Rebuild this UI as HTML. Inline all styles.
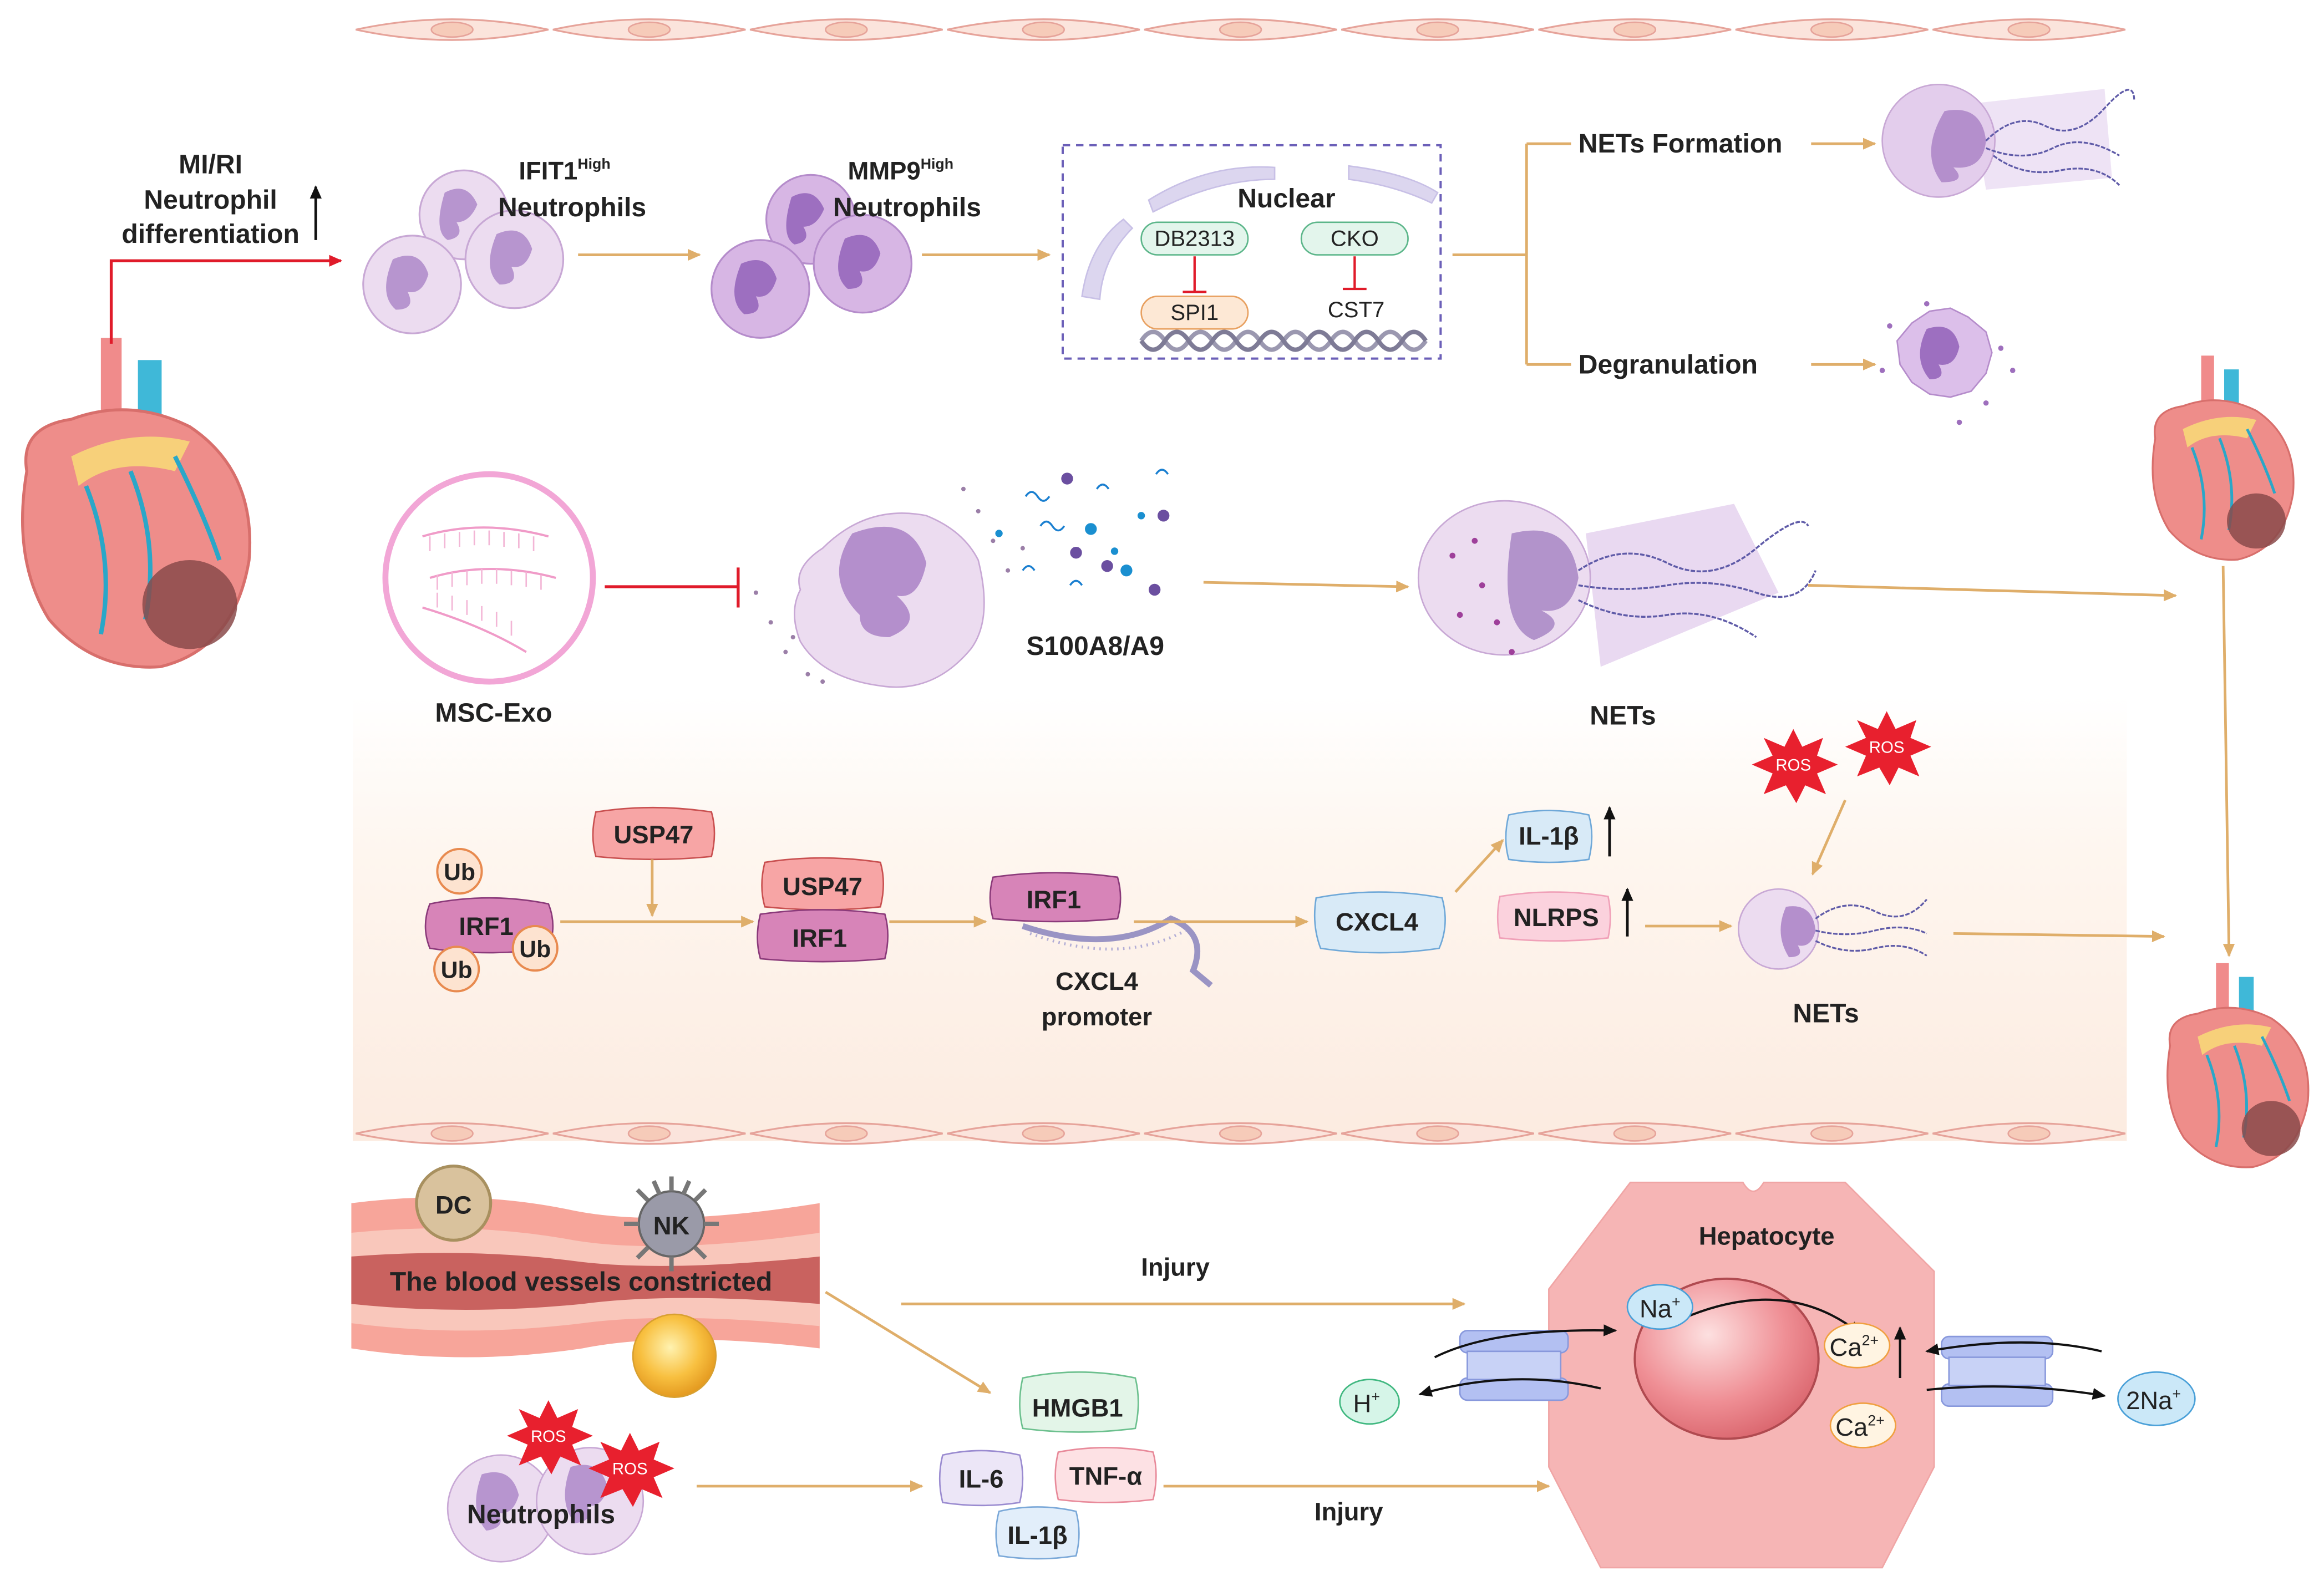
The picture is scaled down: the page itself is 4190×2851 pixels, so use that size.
<!DOCTYPE html>
<html><head><meta charset="utf-8"><style>
html,body{margin:0;padding:0;background:#fff}
svg{display:block}
text{font-family:"Liberation Sans",sans-serif;font-weight:bold;fill:#222}
</style></head><body>
<svg width="4190" height="2851" viewBox="0 0 1568 1067" xmlns="http://www.w3.org/2000/svg">
<defs>
<marker id="ao" markerWidth="10" markerHeight="10" refX="8" refY="5" orient="auto" markerUnits="userSpaceOnUse"><path d="M0,1 L9,5 L0,9 Z" fill="#dfae6a"/></marker>
<marker id="ar" markerWidth="10" markerHeight="10" refX="8" refY="5" orient="auto" markerUnits="userSpaceOnUse"><path d="M0,1 L9,5 L0,9 Z" fill="#e01b2a"/></marker>
<marker id="ak" markerWidth="10" markerHeight="10" refX="8" refY="5" orient="auto" markerUnits="userSpaceOnUse"><path d="M0,1 L9,5 L0,9 Z" fill="#111"/></marker>
<linearGradient id="band" x1="0" y1="0" x2="0" y2="1"><stop offset="0" stop-color="#fff"/><stop offset="0.35" stop-color="#fef6ef"/><stop offset="1" stop-color="#fcebe0"/></linearGradient>
<radialGradient id="sph" cx="0.4" cy="0.35" r="0.7"><stop offset="0" stop-color="#fde0e0"/><stop offset="0.6" stop-color="#ef8f95"/><stop offset="1" stop-color="#d9646c"/></radialGradient>
<radialGradient id="yb" cx="0.45" cy="0.4" r="0.6"><stop offset="0" stop-color="#fff2b0"/><stop offset="0.6" stop-color="#f8c040"/><stop offset="1" stop-color="#e49a20"/></radialGradient>
<g id="cell"><path d="M0,0 Q65,-14 130,0 Q65,14 0,0Z" fill="#fbe4dc" stroke="#e6a39a" stroke-width="1.2"/><ellipse cx="65" cy="0" rx="14" ry="5" fill="#f6cbb9" stroke="#e6a39a"/></g>
<g id="heart">
<rect x="20" y="70" width="16" height="110" fill="#33b7d8"/>
<rect x="60" y="0" width="14" height="80" fill="#f08b8b"/>
<rect x="85" y="15" width="16" height="70" fill="#3fb8d8"/>
<path d="M10,90 Q5,60 40,55 Q80,40 120,60 Q165,90 160,150 Q150,210 100,222 Q55,225 25,190 Q0,150 10,90Z" fill="#ee8d8a" stroke="#d86f6c" stroke-width="2"/>
<path d="M40,80 Q80,60 120,70 L110,90 Q70,80 45,100Z" fill="#f7d07a"/>
<path d="M50,100 Q70,150 60,200 M80,90 Q100,140 90,190 M110,80 Q130,120 140,150" stroke="#2aa7c8" stroke-width="3" fill="none"/>
<ellipse cx="120" cy="180" rx="32" ry="30" fill="#8a4a4a" opacity="0.85"/>
</g>
</defs>

<rect x="238" y="470" width="1197" height="300" fill="url(#band)"/>

<g transform="translate(240,20)"><use href="#cell"/><use href="#cell" x="133"/><use href="#cell" x="266"/><use href="#cell" x="399"/><use href="#cell" x="532"/><use href="#cell" x="665"/><use href="#cell" x="798"/><use href="#cell" x="931"/><use href="#cell" x="1064"/></g>
<g transform="translate(240,765)"><use href="#cell"/><use href="#cell" x="133"/><use href="#cell" x="266"/><use href="#cell" x="399"/><use href="#cell" x="532"/><use href="#cell" x="665"/><use href="#cell" x="798"/><use href="#cell" x="931"/><use href="#cell" x="1064"/></g>

<g transform="translate(8,228)"><use href="#heart"/></g>
<g transform="translate(1448,240) scale(0.62)"><use href="#heart"/></g>
<g transform="translate(1458,650) scale(0.62)"><use href="#heart"/></g>

<path d="M75,232 L75,176 L230,176" stroke="#e01b2a" stroke-width="2" fill="none" marker-end="url(#ar)"/>
<text x="142" y="117" font-size="18" text-anchor="middle">MI/RI</text>
<text x="142" y="141" font-size="18" text-anchor="middle">Neutrophil</text>
<text x="142" y="164" font-size="18" text-anchor="middle">differentiation</text>
<path d="M213,162 L213,126" stroke="#111" stroke-width="1.8" marker-end="url(#ak)"/>

<g fill="#ecdcf0" stroke="#c8a8d5" stroke-width="1.2">
<circle cx="313" cy="145" r="30"/><circle cx="278" cy="192" r="33"/><circle cx="347" cy="175" r="33"/>
</g>
<g fill="#b795cf"><path d="M300,130 q15,-8 22,8 q-5,12 -14,12 q6,10 -6,12 q-10,-6 -2,-32z"/><path d="M265,175 q18,-8 24,10 q-4,14 -14,12 q6,12 -8,12 q-12,-10 -2,-34z"/><path d="M335,158 q18,-8 24,10 q-4,14 -14,12 q6,12 -8,12 q-12,-10 -2,-34z"/></g>
<text x="350" y="121" font-size="17">IFIT1<tspan font-size="10" dy="-7">High</tspan></text>
<text x="386" y="146" font-size="18" text-anchor="middle">Neutrophils</text>
<path d="M390,172 L472,172" stroke="#dfae6a" stroke-width="1.8" marker-end="url(#ao)"/>

<g fill="#d7b6e4" stroke="#b58ccb" stroke-width="1.2">
<circle cx="547" cy="148" r="30"/><circle cx="513" cy="195" r="33"/><circle cx="582" cy="178" r="33"/>
</g>
<g fill="#9d6fc0"><path d="M534,133 q15,-8 22,8 q-5,12 -14,12 q6,10 -6,12 q-10,-6 -2,-32z"/><path d="M500,178 q18,-8 24,10 q-4,14 -14,12 q6,12 -8,12 q-12,-10 -2,-34z"/><path d="M570,161 q18,-8 24,10 q-4,14 -14,12 q6,12 -8,12 q-12,-10 -2,-34z"/></g>
<text x="572" y="121" font-size="17">MMP9<tspan font-size="10" dy="-7">High</tspan></text>
<text x="612" y="146" font-size="18" text-anchor="middle">Neutrophils</text>
<path d="M622,172 L708,172" stroke="#dfae6a" stroke-width="1.8" marker-end="url(#ao)"/>

<rect x="717" y="98" width="255" height="144" fill="none" stroke="#6b5fb8" stroke-width="1.5" stroke-dasharray="5,4"/>
<g fill="#dcd6ef" stroke="#c8c0e6"><path d="M775,135 q40,-25 85,-22 l0,8 q-40,0 -82,22z"/><path d="M910,112 q40,5 60,18 l-4,7 q-25,-12 -56,-16z"/><path d="M730,200 q5,-35 28,-52 l6,6 q-20,20 -22,48z"/></g>
<text x="868" y="140" font-size="18" text-anchor="middle">Nuclear</text>
<rect x="770" y="150" width="72" height="22" rx="11" fill="#e3f5ec" stroke="#5cb68a"/>
<text x="806" y="166" font-size="15" text-anchor="middle" style="font-weight:normal">DB2313</text>
<rect x="878" y="150" width="72" height="22" rx="11" fill="#e3f5ec" stroke="#5cb68a"/>
<text x="914" y="166" font-size="15" text-anchor="middle" style="font-weight:normal">CKO</text>
<path d="M806,173 L806,197 M798,197 L814,197 M914,173 L914,195 M906,195 L922,195" stroke="#e01b2a" stroke-width="1.6"/>
<rect x="770" y="200" width="72" height="22" rx="11" fill="#fde8d5" stroke="#e8a060"/>
<text x="806" y="216" font-size="15" text-anchor="middle" style="font-weight:normal">SPI1</text>
<path d="M770,230 q8,-12 16,0 t16,0 t16,0 t16,0 t16,0 t16,0 t16,0 t16,0 t16,0 t16,0 t16,0 t16,0" stroke="#9b98b0" stroke-width="3" fill="none"/>
<path d="M770,230 q8,12 16,0 t16,0 t16,0 t16,0 t16,0 t16,0 t16,0 t16,0 t16,0 t16,0 t16,0 t16,0" stroke="#7e7b96" stroke-width="3" fill="none"/>
<text x="915" y="214" font-size="15" text-anchor="middle" style="font-weight:normal">CST7</text>

<path d="M980,172 L1030,172 M1030,97 L1030,246 M1030,97 L1060,97 M1030,246 L1060,246" stroke="#dfae6a" stroke-width="1.8" fill="none"/>
<text x="1065" y="103" font-size="18">NETs Formation</text>
<path d="M1222,97 L1265,97" stroke="#dfae6a" stroke-width="1.8" marker-end="url(#ao)"/>
<text x="1065" y="252" font-size="18">Degranulation</text>
<path d="M1222,246 L1265,246" stroke="#dfae6a" stroke-width="1.8" marker-end="url(#ao)"/>

<path d="M1330,70 L1420,60 L1425,120 L1340,128Z" fill="#eadcf2" opacity="0.8"/>
<circle cx="1308" cy="95" r="38" fill="#e3cdec" stroke="#c8a8d5"/>
<path d="M1312,75 q25,-5 28,20 q-2,20 -22,18 q10,10 -8,10 q-15,-20 2,-48z" fill="#b48fcc"/>
<path d="M1340,95 q20,-20 40,-10 t40,-12 t20,-5 M1340,100 q25,10 45,0 t45,5 M1345,105 q20,15 45,10 t40,10" stroke="#5f5ba8" stroke-width="1.2" fill="none" stroke-dasharray="3,1"/>
<path d="M1280,230 l10,-12 l12,-8 l14,-2 l12,6 l12,10 l4,14 l-4,14 l-10,12 l-14,4 l-14,-2 l-12,-8 l-8,-12z" fill="#dcbfea" stroke="#b58ccb"/>
<path d="M1300,222 q18,-6 22,12 q-3,14 -14,12 q6,10 -6,10 q-12,-14 -2,-34z" fill="#9d6fc0"/>
<g fill="#9e6fbd"><circle cx="1275" cy="220" r="1.8"/><circle cx="1350" cy="235" r="1.8"/><circle cx="1340" cy="272" r="1.8"/><circle cx="1322" cy="285" r="1.8"/><circle cx="1358" cy="250" r="1.8"/><circle cx="1270" cy="250" r="1.8"/><circle cx="1300" cy="205" r="1.8"/></g>

<circle cx="330" cy="390" r="70" fill="#fff" stroke="#f2a6d6" stroke-width="4"/>
<g stroke="#f09bc8" stroke-width="1.5" fill="none"><path d="M285,362 q40,-12 85,0"/><path d="M290,390 q40,-12 85,0"/><path d="M285,410 q40,12 70,30"/></g>
<g stroke="#f3b6d6" stroke-width="1"><path d="M290,362 v10 M300,360 v10 M310,359 v10 M320,358 v10 M330,358 v10 M340,359 v10 M350,360 v10 M360,362 v10 M295,388 v10 M305,386 v10 M315,385 v10 M325,384 v10 M335,384 v10 M345,385 v10 M355,386 v10 M365,388 v10 M295,410 v-10 M305,412 v-10 M315,415 v-10 M325,419 v-10 M335,423 v-10 M345,429 v-10"/></g>
<text x="333" y="487" font-size="18" text-anchor="middle">MSC-Exo</text>
<path d="M408,396 L498,396 M498,383 L498,410" stroke="#e01b2a" stroke-width="2"/>

<path d="M555,370 q30,-30 70,-22 q25,10 35,30 q10,40 -5,60 q-25,30 -60,25 q-40,-5 -55,-30 q-8,-20 0,-35 q-5,-15 15,-28z" fill="#ecdcf0" stroke="#c8a8d5"/>
<path d="M575,360 q40,-15 50,20 q-5,25 -20,22 q20,18 -5,28 q-20,0 -20,-15 q-25,-25 -5,-55z" fill="#b48fcc"/>
<g fill="#9b7fa8"><circle cx="520" cy="420" r="1.5"/><circle cx="530" cy="440" r="1.5"/><circle cx="545" cy="455" r="1.5"/><circle cx="510" cy="400" r="1.5"/><circle cx="660" cy="345" r="1.5"/><circle cx="670" cy="365" r="1.5"/><circle cx="680" cy="385" r="1.5"/><circle cx="650" cy="330" r="1.5"/><circle cx="690" cy="370" r="1.5"/><circle cx="555" cy="460" r="1.5"/><circle cx="535" cy="430" r="1.5"/></g>
<g fill="#6b4fa0"><circle cx="720" cy="323" r="4"/><circle cx="785" cy="348" r="4"/><circle cx="726" cy="373" r="4"/><circle cx="779" cy="398" r="4"/><circle cx="747" cy="382" r="4"/></g>
<g fill="#1a8fd0"><circle cx="674" cy="360" r="2.5"/><circle cx="736" cy="357" r="4"/><circle cx="760" cy="385" r="4"/><circle cx="770" cy="348" r="2.5"/><circle cx="752" cy="372" r="2.5"/></g>
<g stroke="#1a7fd0" stroke-width="1.3" fill="none"><path d="M692,335 q4,-6 8,0 t8,0"/><path d="M702,355 q4,-6 8,0 t8,0"/><path d="M740,330 q4,-6 8,0"/><path d="M780,320 q4,-6 8,0"/><path d="M722,395 q4,-6 8,0"/><path d="M690,385 q4,-6 8,0"/></g>
<text x="739" y="442" font-size="18" text-anchor="middle">S100A8/A9</text>
<path d="M812,393 L950,396" stroke="#dfae6a" stroke-width="1.8" marker-end="url(#ao)"/>

<path d="M1070,360 L1170,340 L1200,400 L1080,450Z" fill="#e3d0ee" opacity="0.8"/>
<ellipse cx="1015" cy="390" rx="58" ry="52" fill="#ecdcf0" stroke="#c8a8d5"/>
<path d="M1020,360 q40,-10 45,30 q-5,25 -25,22 q20,10 -5,20 q-25,-10 -15,-72z" fill="#b293cb"/>
<g fill="#9e3f9a"><circle cx="980" cy="375" r="2"/><circle cx="995" cy="365" r="2"/><circle cx="1000" cy="395" r="2"/><circle cx="985" cy="415" r="2"/><circle cx="1010" cy="420" r="2"/><circle cx="1020" cy="440" r="2"/></g>
<path d="M1065,385 q30,-20 60,-5 t60,-10 t35,-15 M1065,395 q30,5 60,0 t60,5 t40,-15 M1065,405 q30,15 60,10 t60,15" stroke="#5f5ba8" stroke-width="1.3" fill="none" stroke-dasharray="3,1"/>
<text x="1095" y="489" font-size="18" text-anchor="middle">NETs</text>
<path d="M1220,395 L1468,402" stroke="#dfae6a" stroke-width="1.8" marker-end="url(#ao)"/>
<path d="M1500,382 L1504,645" stroke="#dfae6a" stroke-width="1.8" marker-end="url(#ao)"/>

<path d="M290,610 q40,-8 80,0 q6,15 0,30 q-40,6 -80,0 q-6,-15 0,-30z" fill="#d784b8" stroke="#8b3a7a"/>
<text x="328" y="631" font-size="17" text-anchor="middle">IRF1</text>
<g fill="#fde3d0" stroke="#e88a4f" stroke-width="1.5"><circle cx="310" cy="588" r="15"/><circle cx="308" cy="654" r="15"/><circle cx="361" cy="640" r="15"/></g>
<text x="310" y="594" font-size="16" text-anchor="middle">Ub</text>
<text x="308" y="660" font-size="16" text-anchor="middle">Ub</text>
<text x="361" y="646" font-size="16" text-anchor="middle">Ub</text>
<path d="M402,548 q38,-6 78,0 q4,14 0,30 q-38,4 -78,0 q-4,-14 0,-30z" fill="#f7a5a5" stroke="#c95050"/>
<text x="441" y="569" font-size="17" text-anchor="middle">USP47</text>
<path d="M440,580 L440,618" stroke="#dfae6a" stroke-width="1.8" marker-end="url(#ao)"/>
<path d="M378,622 L508,622" stroke="#dfae6a" stroke-width="1.8" marker-end="url(#ao)"/>
<path d="M516,582 q38,-6 78,0 q4,14 0,30 q-38,4 -78,0 q-4,-14 0,-30z" fill="#f7a5a5" stroke="#c95050"/>
<text x="555" y="604" font-size="17" text-anchor="middle">USP47</text>
<path d="M513,617 q42,-6 84,0 q4,14 0,30 q-42,4 -84,0 q-4,-14 0,-30z" fill="#d784b8" stroke="#8b3a7a"/>
<text x="553" y="639" font-size="17" text-anchor="middle">IRF1</text>
<path d="M600,622 L665,622" stroke="#dfae6a" stroke-width="1.8" marker-end="url(#ao)"/>
<path d="M670,592 q42,-6 84,0 q4,14 0,28 q-42,4 -84,0 q-4,-14 0,-28z" fill="#d784b8" stroke="#8b3a7a"/>
<text x="711" y="613" font-size="17" text-anchor="middle">IRF1</text>
<path d="M690,625 q60,20 100,-5 q25,10 15,35 l12,10" stroke="#9a94c4" stroke-width="4" fill="none"/>
<path d="M695,630 q60,22 105,-2" stroke="#b3aed6" stroke-width="2" fill="none" stroke-dasharray="1,3"/>
<text x="740" y="668" font-size="17" text-anchor="middle">CXCL4</text>
<text x="740" y="692" font-size="17" text-anchor="middle">promoter</text>
<path d="M765,622 L882,622" stroke="#dfae6a" stroke-width="1.8" marker-end="url(#ao)"/>
<path d="M888,606 q42,-8 85,0 q5,18 -2,34 q-40,6 -80,0 q-6,-16 -3,-34z" fill="#d8eaf7" stroke="#6fa8d8"/>
<text x="929" y="628" font-size="17" text-anchor="middle">CXCL4</text>
<path d="M982,602 L1014,567" stroke="#dfae6a" stroke-width="1.8" marker-end="url(#ao)"/>
<path d="M1018,550 q27,-6 54,0 q4,14 0,30 q-27,4 -54,0 q-4,-14 0,-30z" fill="#d8eaf7" stroke="#6fa8d8"/>
<text x="1045" y="570" font-size="17" text-anchor="middle">IL-1β</text>
<path d="M1086,578 L1086,545" stroke="#111" stroke-width="1.8" marker-end="url(#ak)"/>
<path d="M1012,605 q36,-6 73,0 q3,14 0,28 q-36,4 -73,0 q-3,-14 0,-28z" fill="#fbd2dd" stroke="#f0a0b8"/>
<text x="1050" y="625" font-size="17" text-anchor="middle">NLRPS</text>
<path d="M1098,632 L1098,600" stroke="#111" stroke-width="1.8" marker-end="url(#ak)"/>
<path d="M1110,625 L1168,625" stroke="#dfae6a" stroke-width="1.8" marker-end="url(#ao)"/>
<circle cx="1200" cy="627" r="27" fill="#ecdcf0" stroke="#c8a8d5"/>
<path d="M1205,612 q18,-3 20,16 q-3,12 -12,10 q5,8 -6,8 q-10,-16 -2,-34z" fill="#b48fcc"/>
<path d="M1225,620 q20,-15 40,-5 t35,-8 M1225,628 q20,5 40,0 t35,2 M1225,635 q20,10 40,5 t35,5" stroke="#5f5ba8" stroke-width="1.2" fill="none" stroke-dasharray="3,1"/>
<text x="1232" y="690" font-size="18" text-anchor="middle">NETs</text>
<path d="M1318,630 L1460,632" stroke="#dfae6a" stroke-width="1.8" marker-end="url(#ao)"/>
<g fill="#e8202e">
<polygon points="1210,492 1216,504 1230,498 1226,510 1240,516 1226,522 1232,536 1218,530 1212,542 1205,530 1190,536 1196,522 1182,516 1196,510 1190,498 1204,504"/>
<polygon points="1273,480 1279,492 1293,486 1289,498 1303,504 1289,510 1295,524 1281,518 1275,530 1268,518 1253,524 1259,510 1245,504 1259,498 1253,486 1267,492"/>
</g>
<text x="1210" y="520" font-size="11" text-anchor="middle" style="fill:#fff;font-weight:normal">ROS</text>
<text x="1273" y="508" font-size="11" text-anchor="middle" style="fill:#fff;font-weight:normal">ROS</text>
<path d="M1245,540 L1223,590" stroke="#dfae6a" stroke-width="1.8" marker-end="url(#ao)"/>

<path d="M237,812 q80,-10 150,5 q60,12 166,-5 L553,910 q-100,-12 -160,0 q-80,12 -156,0z" fill="#f7a59a"/>
<path d="M237,832 q80,-8 150,5 q60,10 166,-5 L553,895 q-100,-10 -160,-2 q-80,10 -156,0z" fill="#f9c7bb"/>
<path d="M237,848 q80,-6 150,3 q60,8 166,-3 L553,880 q-100,-8 -160,0 q-80,8 -156,0z" fill="#c9625f"/>
<circle cx="306" cy="812" r="25" fill="#d9c29d" stroke="#a8905f" stroke-width="2"/>
<text x="306" y="819" font-size="17" text-anchor="middle">DC</text>
<g transform="translate(453,826)"><circle r="22" fill="#9a9aa8" stroke="#666" stroke-width="1.5"/>
<path d="M0,-22 v-10 M16,-16 l7,-7 M22,0 h10 M16,16 l7,7 M0,22 v10 M-16,16 l-7,7 M-22,0 h-10 M-16,-16 l-7,-7 M8,-20 l4,-9 M-8,-20 l-4,-9" stroke="#777" stroke-width="3"/></g>
<text x="453" y="833" font-size="17" text-anchor="middle">NK</text>
<text x="392" y="871" font-size="18" text-anchor="middle">The blood vessels constricted</text>
<circle cx="455" cy="915" r="28" fill="url(#yb)" stroke="#d8a030"/>
<text x="793" y="861" font-size="17" text-anchor="middle">Injury</text>
<path d="M608,880 L988,880" stroke="#dfae6a" stroke-width="1.8" marker-end="url(#ao)"/>
<path d="M557,872 L668,940" stroke="#dfae6a" stroke-width="1.8" marker-end="url(#ao)"/>

<path d="M690,930 q38,-8 76,0 q4,16 0,34 q-38,5 -76,0 q-4,-16 0,-34z" fill="#e3f5e8" stroke="#6cc08e"/>
<text x="727" y="956" font-size="17" text-anchor="middle">HMGB1</text>
<path d="M636,982 q26,-6 52,0 q4,15 0,32 q-26,4 -52,0 q-4,-16 0,-32z" fill="#ece6f7" stroke="#9a8bd0"/>
<text x="662" y="1004" font-size="17" text-anchor="middle">IL-6</text>
<path d="M714,980 q32,-6 64,0 q4,15 0,32 q-32,4 -64,0 q-4,-16 0,-32z" fill="#fde1e4" stroke="#e88a9a"/>
<text x="746" y="1002" font-size="17" text-anchor="middle">TNF-α</text>
<path d="M674,1020 q26,-6 52,0 q4,15 0,30 q-26,4 -52,0 q-4,-15 0,-30z" fill="#e2eefa" stroke="#7aa8d8"/>
<text x="700" y="1042" font-size="17" text-anchor="middle">IL-1β</text>

<circle cx="338" cy="1018" r="36" fill="#ecdcf0" stroke="#c8a8d5"/>
<circle cx="398" cy="1013" r="36" fill="#ecdcf0" stroke="#c8a8d5"/>
<path d="M325,995 q20,-6 25,14 q-4,14 -14,12 q6,10 -8,12 q-12,-14 -3,-38z" fill="#b795cf"/>
<path d="M385,990 q20,-6 25,14 q-4,14 -14,12 q6,10 -8,12 q-12,-14 -3,-38z" fill="#b795cf"/>
<g fill="#e8202e">
<polygon points="370,945 376,957 390,951 386,963 400,969 386,975 392,989 378,983 372,995 365,983 350,989 356,975 342,969 356,963 350,951 364,957"/>
<polygon points="425,967 431,979 445,973 441,985 455,991 441,997 447,1011 433,1005 427,1017 420,1005 405,1011 411,997 397,991 411,985 405,973 419,979"/>
</g>
<text x="370" y="973" font-size="11" text-anchor="middle" style="fill:#fff;font-weight:normal">ROS</text>
<text x="425" y="995" font-size="11" text-anchor="middle" style="fill:#fff;font-weight:normal">ROS</text>
<text x="365" y="1028" font-size="18" text-anchor="middle">Neutrophils</text>
<path d="M470,1003 L622,1003" stroke="#dfae6a" stroke-width="1.8" marker-end="url(#ao)"/>
<path d="M785,1003 L1045,1003" stroke="#dfae6a" stroke-width="1.8" marker-end="url(#ao)"/>
<text x="910" y="1026" font-size="17" text-anchor="middle">Injury</text>

<path d="M1100,798 L1176,798 q7,12 14,0 L1245,798 L1305,858 L1305,990 L1270,1058 L1080,1058 L1045,990 L1045,870 Z" fill="#f6b5b5" stroke="#f0a5a5"/>
<text x="1192" y="840" font-size="17" text-anchor="middle">Hepatocyte</text>
<ellipse cx="1165" cy="917" rx="62" ry="54" fill="url(#sph)" stroke="#b04a50" stroke-width="1.5"/>
<g fill="#b3c0f2" stroke="#8898dc"><rect x="985" y="898" width="73" height="15" rx="5"/><rect x="985" y="930" width="73" height="15" rx="5"/><rect x="990" y="912" width="63" height="19" fill="#c8d2f6"/>
<rect x="1310" y="902" width="75" height="15" rx="5"/><rect x="1310" y="934" width="75" height="15" rx="5"/><rect x="1315" y="916" width="65" height="19" fill="#c8d2f6"/></g>
<path d="M968,916 q40,-20 122,-18" stroke="#111" stroke-width="1.5" fill="none" marker-end="url(#ak)"/>
<path d="M1080,937 q-60,-14 -122,4" stroke="#111" stroke-width="1.5" fill="none" marker-end="url(#ak)"/>
<path d="M1135,890 q70,-30 120,10" stroke="#111" stroke-width="1.5" fill="none" marker-end="url(#ak)"/>
<path d="M1418,912 q-50,-12 -118,0" stroke="#111" stroke-width="1.5" fill="none" marker-end="url(#ak)"/>
<path d="M1300,938 q60,-6 120,4" stroke="#111" stroke-width="1.5" fill="none" marker-end="url(#ak)"/>
<path d="M1282,930 L1282,896" stroke="#111" stroke-width="1.6" marker-end="url(#ak)"/>
<ellipse cx="1120" cy="882" rx="22" ry="15" fill="#cbe8f8" stroke="#4aa0d8"/>
<text x="1120" y="889" font-size="17" text-anchor="middle" style="font-weight:normal">Na<tspan font-size="10" dy="-7">+</tspan></text>
<ellipse cx="1253" cy="908" rx="22" ry="15" fill="#fff4e2" stroke="#f0a040"/>
<text x="1251" y="915" font-size="17" text-anchor="middle" style="font-weight:normal">Ca<tspan font-size="10" dy="-7">2+</tspan></text>
<ellipse cx="1257" cy="962" rx="22" ry="15" fill="#fff4e2" stroke="#f0a040"/>
<text x="1255" y="969" font-size="17" text-anchor="middle" style="font-weight:normal">Ca<tspan font-size="10" dy="-7">2+</tspan></text>
<ellipse cx="924" cy="946" rx="20" ry="15" fill="#d6f5e8" stroke="#40b880"/>
<text x="922" y="953" font-size="17" text-anchor="middle" style="font-weight:normal">H<tspan font-size="10" dy="-7">+</tspan></text>
<ellipse cx="1455" cy="944" rx="26" ry="18" fill="#cbe8f8" stroke="#4aa0d8"/>
<text x="1453" y="951" font-size="17" text-anchor="middle" style="font-weight:normal">2Na<tspan font-size="10" dy="-7">+</tspan></text>
</svg>
</body></html>
